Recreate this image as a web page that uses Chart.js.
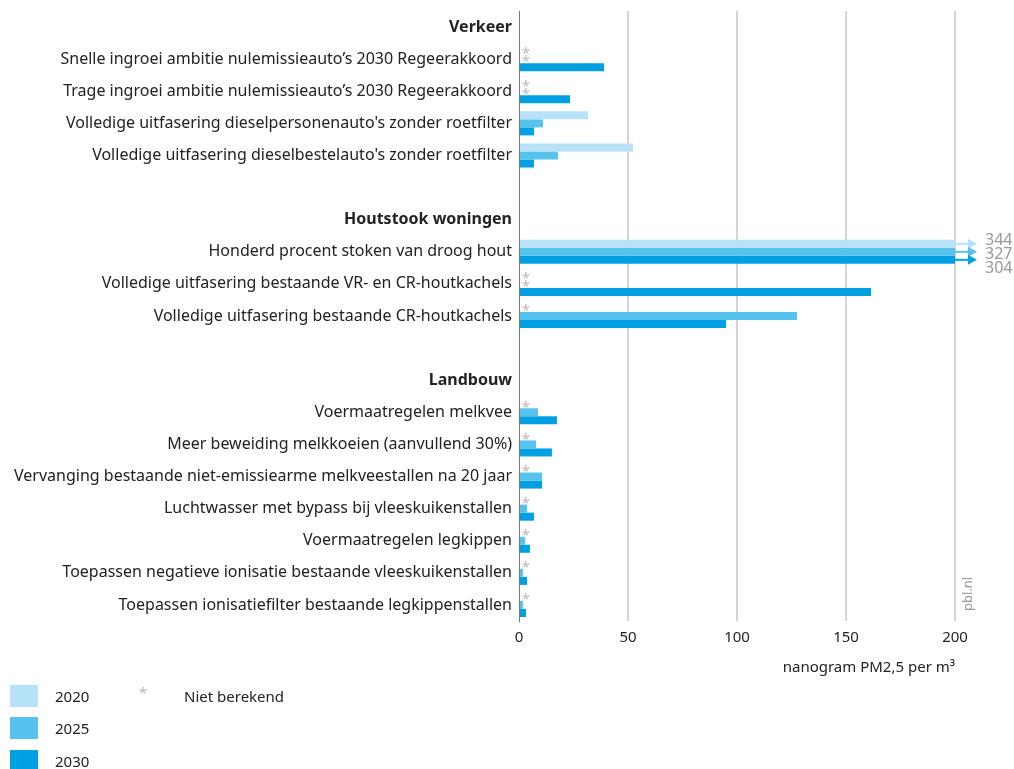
<!DOCTYPE html>
<html lang="nl">
<head>
    <meta charset="UTF-8">
    <title>Maatregelen PM2,5</title>
    <script src="https://cdn.jsdelivr.net/npm/chart.js"></script>
    <style>
        body { margin: 0; background: #fff; font-family: 'Noto Sans', sans-serif; }
        .wrap { position: absolute; left: 0; top: 0; width: 1014px; height: 686px; }
        .legend { position: absolute; left: 10px; top: 685px; font-size: 15px; color: #222; }
        .item { position: absolute; left: 0; width: 300px; height: 22px; }
        .box { position: absolute; left: 0; top: 0; width: 28px; height: 22px; }
        .lab { position: absolute; left: 45px; top: 0; line-height: 22px; }
        .star { position: absolute; left: 129px; top: -3px; color: #bbb; font-size: 15px; }
        .nb { position: absolute; left: 174px; top: 0; line-height: 22px; }
    </style>
</head>
<body>
    <div class="wrap"><canvas id="chart"></canvas></div>
    <div class="legend">
        <div class="item" style="top:0"><div class="box" style="background:#b8e2f7"></div><span class="lab">2020</span><span class="star">*</span><span class="nb">Niet berekend</span></div>
        <div class="item" style="top:32px"><div class="box" style="background:#56c2ee"></div><span class="lab">2025</span></div>
        <div class="item" style="top:65px"><div class="box" style="background:#00a0e2"></div><span class="lab">2030</span></div>
    </div>

    <script>
        // categorieen (lege string = witregel)
        const categories = [
            'Verkeer',
            'Snelle ingroei ambitie nulemissieauto’s 2030 Regeerakkoord',
            'Trage ingroei ambitie nulemissieauto’s 2030 Regeerakkoord',
            "Volledige uitfasering dieselpersonenauto's zonder roetfilter",
            "Volledige uitfasering dieselbestelauto's zonder roetfilter",
            '',
            'Houtstook woningen',
            'Honderd procent stoken van droog hout',
            'Volledige uitfasering bestaande VR- en CR-houtkachels',
            'Volledige uitfasering bestaande CR-houtkachels',
            '',
            'Landbouw',
            'Voermaatregelen melkvee',
            'Meer beweiding melkkoeien (aanvullend 30%)',
            'Vervanging bestaande niet-emissiearme melkveestallen na 20 jaar',
            'Luchtwasser met bypass bij vleeskuikenstallen',
            'Voermaatregelen legkippen',
            'Toepassen negatieve ionisatie bestaande vleeskuikenstallen',
            'Toepassen ionisatiefilter bestaande legkippenstallen'
        ];
        const headers = ['Verkeer', 'Houtstook woningen', 'Landbouw'];

        const years = ['2020', '2025', '2030'];
        const colors = ['#b8e2f7', '#56c2ee', '#00a0e2'];

        // null = niet berekend
        const v2020 = [null, null, null, 31.7, 52.3, null, null, 344, null, null, null, null, null, null, null, null, null, null, null];
        const v2025 = [null, null, null, 11, 17.9, null, null, 327, null, 127.5, null, null, 8.7, 7.8, 10.6, 3.7, 2.8, 1.8, 1.8];
        const v2030 = [null, 39, 23.4, 6.9, 6.9, null, null, 304, 161.5, 95, null, null, 17.4, 15.1, 10.6, 6.9, 5, 3.7, 3.2];

        const xTicks = [0, 50, 100, 150, 200];
        const xMax = 200;

        const isItem = (i) => categories[i] !== '' && !headers.includes(categories[i]);

        // sterretjes voor niet berekende waarden + pijlen voor waarden buiten de as
        const extras = {
            id: 'extras',
            afterDatasetsDraw(chart) {
                const ctx = chart.ctx;
                const x = chart.scales.x, y = chart.scales.y;
                const area = chart.chartArea;
                ctx.save();
                chart.data.datasets.forEach((ds, d) => {
                    const meta = chart.getDatasetMeta(d);
                    ds.data.forEach((v, i) => {
                        const el = meta.data[i];
                        if (v === null && isItem(i)) {
                            ctx.fillStyle = '#bbb';
                            ctx.font = "15px 'Noto Sans'";
                            ctx.textAlign = 'center';
                            ctx.textBaseline = 'middle';
                            ctx.fillText('*', x.getPixelForValue(0) + 7, el.y + 3);
                        }
                        if (v !== null && v > xMax) {
                            const x0 = area.right, x1 = area.right + 22;
                            ctx.strokeStyle = ds.backgroundColor;
                            ctx.fillStyle = ds.backgroundColor;
                            ctx.lineWidth = 2;
                            ctx.beginPath();
                            ctx.moveTo(x0, el.y);
                            ctx.lineTo(x1 - 8, el.y);
                            ctx.stroke();
                            ctx.beginPath();
                            ctx.moveTo(x1 - 9, el.y - 5);
                            ctx.lineTo(x1, el.y);
                            ctx.lineTo(x1 - 9, el.y + 5);
                            ctx.closePath();
                            ctx.fill();
                            ctx.fillStyle = '#999';
                            ctx.font = "16px 'Noto Sans'";
                            ctx.textAlign = 'left';
                            ctx.textBaseline = 'middle';
                            ctx.fillText(String(v), 985, y.getPixelForValue(i) - 11 + d * 14);
                        }
                    });
                });
                // bronvermelding
                ctx.translate(area.right + 13, area.bottom - 27);
                ctx.rotate(-Math.PI / 2);
                ctx.fillStyle = '#999';
                ctx.font = "13px 'Noto Sans'";
                ctx.textAlign = 'center';
                ctx.textBaseline = 'middle';
                ctx.fillText('pbl.nl', 0, 0);
                ctx.restore();
            }
        };

        Chart.defaults.font.family = "'Noto Sans', sans-serif";
        Chart.defaults.font.size = 15;
        Chart.defaults.color = '#222';

        new Chart(document.getElementById('chart'), {
            type: 'bar',
            data: {
                labels: categories,
                datasets: [
                    { label: years[0], data: v2020, backgroundColor: colors[0] },
                    { label: years[1], data: v2025, backgroundColor: colors[1] },
                    { label: years[2], data: v2030, backgroundColor: colors[2] }
                ]
            },
            options: {
                indexAxis: 'y',
                responsive: true,
                maintainAspectRatio: false,
                animation: false,
                categoryPercentage: 0.75,
                barPercentage: 1,
                layout: { padding: { top: 11, right: 59, left: 0, bottom: 0 } },
                plugins: {
                    legend: { display: false },
                    tooltip: { enabled: false }
                },
                scales: {
                    x: {
                        min: 0,
                        max: xMax,
                        afterBuildTicks: (s) => { s.ticks = xTicks.map(v => ({ value: v })); },
                        afterFit: (s) => { s.height = 65; },
                        grid: {
                            drawTicks: false,
                            color: (c) => c.tick && c.tick.value === 0 ? 'rgba(0,0,0,0)' : '#d4d4d4',
                            lineWidth: 2
                        },
                        border: { display: false },
                        ticks: { padding: 8, color: '#222', font: { size: 15 } },
                        title: {
                            display: true,
                            text: 'nanogram PM2,5 per m³',
                            align: 'end',
                            color: '#222',
                            font: { size: 15 },
                            padding: { top: 0, bottom: 9 }
                        }
                    },
                    y: {
                        afterFit: (s) => { s.width = 519; s.paddingTop = 0; s.paddingBottom = 0; },
                        grid: { display: false, drawTicks: false },
                        border: { display: true, color: '#777', width: 1 },
                        ticks: {
                            autoSkip: false,
                            padding: 7,
                            color: '#222',
                            font: (c) => ({ size: 16, weight: headers.includes(categories[c.index]) ? 'bold' : 'normal' })
                        }
                    }
                }
            },
            plugins: [extras]
        });
    </script>
</body>
</html>
